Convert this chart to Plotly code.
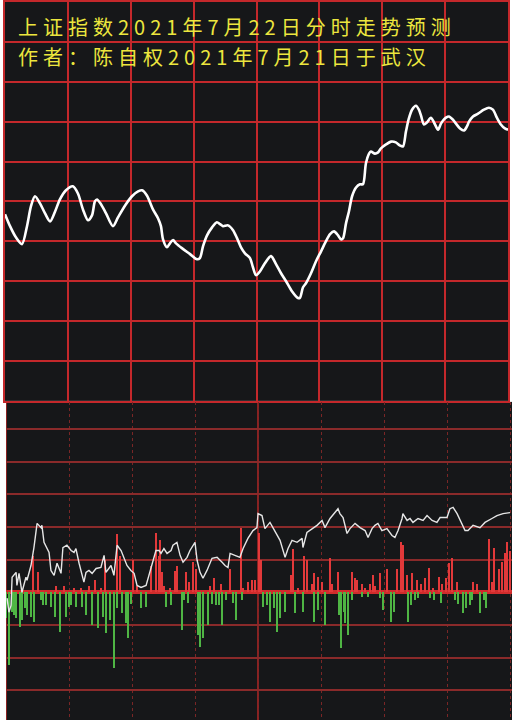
import plotly.graph_objects as go

# ---------------- data ----------------
# Upper panel: forecast curve (minutes after open, index level)
top_t = [0, 2.4, 5.2, 8.1, 10.5, 12.4, 14.3, 16.7, 19.1, 21.5, 23.9, 26.2, 29.1, 32.4, 34.8, 37.2,
         39.6, 41.5, 42.9, 43.9, 45.8, 48.2, 51.5, 53.9, 57.3, 60.6, 63.5, 65.4, 67.7, 70.6, 73.0,
         74.4, 75.4, 77.3, 78.7, 80.2, 81.6, 84.4, 88.3, 91.6, 93.0, 94.5, 96.4, 98.8, 101.1, 102.6,
         104.0, 106.4, 108.8, 110.7, 112.6, 114.5, 116.9, 118.3, 119.8, 121.7, 124.0, 126.9, 129.3,
         131.7, 134.1, 136.9, 139.8, 140.7, 142.2, 143.6, 146.0, 148.4, 150.8, 153.1, 155.1, 157.0,
         158.9, 160.3, 161.3, 162.7, 164.1, 165.6, 167.5, 169.4, 170.8, 172.2, 173.7, 174.6, 176.5,
         178.0, 179.4, 181.8, 184.2, 186.5, 188.5, 189.9, 191.3, 192.7, 194.2, 196.1, 197.5, 198.5,
         199.9, 201.3, 203.2, 204.7, 206.6, 208.0, 209.0, 210.4, 211.8, 213.7, 215.2, 217.1, 219.0,
         220.4, 221.4, 223.3, 225.7, 228.5, 230.9, 232.8, 234.7, 236.6, 238.5, 240]
top_v = [3546.8, 3543.8, 3541.0, 3539.3, 3543.8, 3548.8, 3551.3, 3549.5, 3547.0, 3545.0, 3547.5,
         3550.5, 3552.8, 3553.8, 3552.0, 3548.0, 3545.3, 3546.5, 3550.0, 3550.5, 3549.3, 3547.0,
         3543.8, 3546.0, 3549.0, 3551.3, 3552.5, 3552.8, 3551.5, 3548.0, 3545.8, 3543.8, 3540.5,
         3538.5, 3539.5, 3540.3, 3539.5, 3538.3, 3536.8, 3535.5, 3535.8, 3538.8, 3541.5, 3543.5,
         3544.8, 3544.3, 3543.8, 3544.0, 3542.8, 3540.8, 3538.5, 3537.0, 3535.8, 3533.5, 3531.5,
         3532.5, 3534.5, 3536.3, 3534.3, 3532.0, 3530.0, 3527.5, 3525.8, 3525.8, 3528.5, 3529.5,
         3532.0, 3535.0, 3537.5, 3540.0, 3541.8, 3542.5, 3541.5, 3540.5, 3540.8, 3544.5, 3547.5,
         3551.3, 3553.5, 3554.3, 3554.3, 3559.5, 3562.0, 3562.5, 3562.0, 3562.3, 3563.3, 3564.3,
         3565.0, 3564.8, 3564.0, 3563.8, 3567.5, 3570.8, 3573.0, 3574.0, 3573.0, 3571.5, 3569.3,
         3569.8, 3571.0, 3569.8, 3568.0, 3569.5, 3570.3, 3571.0, 3571.3, 3570.5, 3569.5, 3568.3,
         3567.8, 3568.8, 3570.0, 3571.3, 3572.0, 3573.0, 3573.5, 3573.0, 3571.0, 3569.3, 3568.3,
         3568.0]

# Lower panel: actual intraday line (minutes, scaled units)
low_t = [0.5, 1.4, 2.4, 2.9, 4.8, 5.2, 6.2, 7.1, 7.6, 9.5, 10.0, 11.9, 13.3, 14.8, 16.7, 17.1, 18.1,
         20.5, 21.4, 22.9, 24.3, 26.2, 27.1, 29.0, 31.0, 32.4, 33.3, 34.8, 37.1, 38.1, 39.5, 41.0,
         42.9, 45.2, 46.7, 47.6, 50.0, 51.4, 52.9, 54.8, 56.2, 57.6, 59.5, 61.0, 62.4, 64.3, 66.7,
         69.0, 71.4, 72.9, 73.8, 75.2, 76.7, 78.6, 79.5, 81.4, 82.9, 84.3, 86.2, 87.6, 90.0, 91.0,
         92.4, 93.8, 95.7, 98.1, 100.5, 102.9, 104.3, 105.7, 106.7, 109.0, 111.4, 112.9, 115.2,
         117.6, 119.5, 120.0, 121.9, 123.3, 125.7, 127.1, 129.0, 130.5, 132.9, 134.3, 136.2, 138.6,
         141.0, 141.4, 143.3, 145.7, 148.1, 150.5, 151.9, 154.3, 156.7, 158.1, 159.0, 160.5, 162.4,
         163.8, 166.2, 168.6, 171.0, 172.4, 174.3, 175.7, 177.1, 179.0, 181.4, 183.8, 185.2, 186.7,
         188.6, 189.0, 191.0, 192.4, 193.8, 196.2, 198.6, 200.5, 202.9, 205.2, 206.7, 210.0, 211.4,
         212.9, 214.8, 217.1, 218.6, 220.0, 222.4, 225.7, 228.1, 231.4, 233.8, 236.7, 240.0]
low_v = [-1.8, -6.1, -4.0, 4.6, 6.1, 2.1, 5.8, 1.5, 0.0, 4.6, 3.7, 8.2, 13.7, 21.1, 19.8, 20.5, 15.3,
         12.2, 6.7, 5.2, 8.9, 5.8, 13.7, 14.4, 12.8, 12.2, 13.4, 8.9, 3.1, 6.1, 6.7, 5.8, 7.3, 7.6,
         11.3, 6.1, 8.2, 5.2, 14.4, 12.8, 10.4, 8.2, 6.7, 5.8, 2.1, 1.5, 2.1, 7.3, 12.8, 12.8, 11.9,
         13.4, 11.9, 12.8, 14.4, 15.3, 11.3, 9.2, 10.7, 12.8, 15.3, 9.8, 6.1, 4.3, 6.7, 10.4, 10.7,
         9.2, 8.2, 7.6, 11.9, 11.3, 10.7, 13.4, 16.5, 18.9, 19.8, 24.1, 23.5, 19.5, 21.4, 19.8, 17.4,
         15.9, 10.7, 13.4, 15.9, 15.3, 16.5, 13.7, 18.3, 19.5, 20.5, 22.0, 19.8, 22.6, 24.4, 25.6,
         24.1, 22.9, 18.0, 19.5, 21.1, 19.8, 18.9, 16.8, 19.5, 20.5, 21.1, 18.9, 19.5, 17.4, 16.8,
         18.9, 22.6, 24.1, 22.0, 22.6, 21.4, 22.6, 22.0, 23.5, 22.0, 21.4, 22.9, 22.9, 25.6, 26.0,
         24.1, 21.1, 18.9, 18.9, 20.5, 19.8, 21.4, 22.6, 23.5, 24.1, 24.4]

# Lower panel: buy bars (red) and sell bars (green)
red_t = [12.9, 15.2, 23.8, 27.6, 32.4, 35.7, 39.5, 42.4, 45.2, 47.1, 52.9, 54.3, 60.5, 62.4, 69.0,
         71.4, 72.9, 73.3, 74.3, 75.2, 78.1, 80.5, 81.4, 85.7, 87.1, 89.0, 90.5, 97.1, 99.0, 102.4,
         106.7, 111.9, 112.9, 115.2, 117.1, 118.6, 120.5, 121.4, 135.7, 136.7, 139.0, 141.9, 143.3,
         145.7, 146.7, 148.6, 150.5, 154.3, 155.2, 158.1, 164.8, 166.2, 167.1, 169.5, 171.0, 173.3,
         174.8, 175.7, 178.1, 181.4, 186.2, 188.1, 189.0, 191.0, 193.3, 195.7, 197.6, 199.5, 201.4,
         203.3, 206.2, 207.6, 209.5, 211.0, 212.4, 214.8, 222.4, 224.3, 230.0, 231.4, 232.4, 234.8,
         236.2, 237.6, 238.6, 240.0]
red_v = [11.3, 6.1, 2.1, 2.1, 1.2, 1.2, 2.1, 3.7, 1.2, 9.8, 18.0, 11.3, 9.8, 2.1, 8.2, 18.3, 11.3,
         15.9, 6.1, 2.1, 1.2, 6.7, 8.2, 6.1, 3.1, 9.2, 7.3, 2.1, 4.3, 2.7, 7.3, 19.8, 1.5, 3.1, 3.7,
         3.7, 18.3, 9.8, 5.2, 13.4, 1.5, 11.3, 9.8, 2.7, 5.8, 4.6, 3.1, 10.4, 2.7, 6.1, 6.1, 4.3, 3.7,
         2.7, 1.5, 2.7, 5.2, 2.1, 5.8, 7.3, 7.3, 15.3, 14.4, 5.2, 5.8, 3.7, 2.7, 4.3, 7.6, 1.2, 4.6,
         2.7, 4.3, 8.9, 10.4, 3.1, 3.1, 2.7, 16.5, 3.1, 13.7, 7.3, 9.2, 12.2, 15.3, 12.8]
green_t = [0.0, 1.4, 2.9, 3.8, 4.8, 6.7, 7.6, 9.0, 10.0, 11.9, 13.3, 16.7, 17.6, 19.0, 21.4, 23.3,
           25.7, 28.6, 30.0, 31.0, 33.3, 36.2, 38.1, 41.0, 43.8, 46.2, 47.6, 49.5, 51.4, 52.9, 55.2,
           57.1, 58.1, 59.5, 64.3, 66.7, 76.2, 78.6, 83.8, 84.8, 86.7, 91.4, 92.4, 93.8, 96.2, 98.1,
           100.0, 101.4, 102.9, 104.8, 108.1, 109.5, 112.4, 122.4, 124.3, 125.7, 127.6, 129.0, 130.5,
           132.9, 137.6, 141.4, 146.7, 148.6, 151.9, 158.6, 159.5, 161.0, 161.4, 162.9, 164.8, 169.5,
           172.4, 178.1, 179.5, 183.3, 184.8, 191.4, 192.9, 194.8, 196.2, 201.9, 203.8, 207.1, 213.8,
           215.2, 217.6, 219.0, 221.0, 221.9, 225.7, 227.6, 228.6]
green_v = [-7.9, -22.3, -6.1, -7.0, -7.9, -10.7, -8.5, -4.9, -7.0, -7.6, -9.2, -2.4, -4.0, -4.0,
           -4.6, -7.6, -12.2, -7.6, -4.6, -4.0, -4.6, -4.6, -7.0, -10.1, -11.0, -7.6, -12.5, -8.5,
           -23.2, -4.9, -6.4, -9.5, -14.0, -3.4, -4.9, -4.6, -4.6, -4.0, -11.6, -2.4, -3.1, -13.1,
           -16.8, -14.0, -10.1, -3.4, -4.0, -4.0, -10.1, -2.4, -3.1, -8.5, -2.4, -4.6, -4.0, -9.2,
           -4.9, -12.2, -7.9, -6.1, -6.4, -6.1, -9.2, -5.5, -10.1, -7.0, -17.1, -6.1, -9.5, -13.1,
           -2.4, -1.5, -1.5, -1.8, -5.5, -9.2, -6.1, -9.2, -4.0, -2.4, -1.8, -1.8, -2.4, -3.1, -2.4,
           -3.4, -6.4, -4.9, -4.0, -2.4, -6.4, -2.4, -4.9]

title_lines = ["上证指数2021年7月22日分时走势预测", "作者：陈自权2021年7月21日于武汉"]

# ---------------- figure ----------------
BG = "#161719"
TOP_GRID = "#c4282b"
LOW_GRID = "#8a2a2a"

fig = go.Figure()

fig.add_trace(go.Scatter(x=top_t, y=top_v, mode="lines",
                         line=dict(color="white", width=2.6, shape="spline", smoothing=0.8),
                         xaxis="x", yaxis="y", hoverinfo="skip"))

fig.add_trace(go.Bar(x=red_t, y=red_v, marker=dict(color="#e2393a", line=dict(width=0)),
                     width=1.0, xaxis="x2", yaxis="y2", hoverinfo="skip"))
fig.add_trace(go.Bar(x=green_t, y=green_v, marker=dict(color="#4fb544", line=dict(width=0)),
                     width=1.0, xaxis="x2", yaxis="y2", hoverinfo="skip"))
fig.add_trace(go.Scatter(x=low_t, y=low_v, mode="lines",
                         line=dict(color="#e6e6e6", width=1.4),
                         xaxis="x2", yaxis="y2", hoverinfo="skip"))

fig.update_layout(
    width=512, height=720, autosize=False,
    margin=dict(l=0, r=0, t=0, b=0),
    paper_bgcolor="white", plot_bgcolor=BG,
    showlegend=False, barmode="overlay", bargap=0, hovermode=False,
    xaxis=dict(domain=[5 / 512, 508 / 512], range=[0, 240], dtick=30, tick0=0,
               showgrid=True, gridcolor=TOP_GRID, gridwidth=1.5,
               showline=True, mirror=True, linecolor=TOP_GRID, linewidth=1.5,
               showticklabels=False, ticks="", zeroline=False, fixedrange=True),
    yaxis=dict(domain=[320 / 720, 1], range=[3500, 3600], dtick=10, tick0=3500,
               showgrid=True, gridcolor=TOP_GRID, gridwidth=1.5,
               showline=True, mirror=True, linecolor=TOP_GRID, linewidth=2,
               showticklabels=False, ticks="", zeroline=False, fixedrange=True),
    xaxis2=dict(domain=[6 / 512, 1], range=[0, 240.95], dtick=30, tick0=0, anchor="y2",
                showgrid=True, gridcolor="#7a2626", gridwidth=1.2, griddash="dot",
                showline=False, showticklabels=False, ticks="", zeroline=False, fixedrange=True),
    yaxis2=dict(domain=[0, 319 / 720], range=[-39.1, 58.3], dtick=10, tick0=0, anchor="x2",
                showgrid=True, gridcolor=LOW_GRID, gridwidth=2,
                zeroline=True, zerolinecolor="#d02c2c", zerolinewidth=3.5,
                showline=False, showticklabels=False, ticks="", fixedrange=True),
)

# solid reference lines of the lower panel (left border and midday)
for xv in (0, 120):
    fig.add_shape(type="line", xref="x2", yref="y2 domain", x0=xv, x1=xv, y0=0, y1=1,
                  line=dict(color="#8a2222", width=2), layer="below")

# title text: two separate lines with a little letter spacing
SP = "\u2005"
for i, line in enumerate(title_lines):
    fig.add_annotation(text=SP.join(list(line)), xref="paper", yref="paper",
                       x=16 / 512, y=1 - (25 + 29.5 * i) / 720,
                       xanchor="left", yanchor="middle", align="left", showarrow=False,
                       font=dict(family="Noto Sans CJK SC", size=20, color="#ece63e"))

fig.write_html("out.html",
               config={"displayModeBar": False},
               post_script="document.body.style.margin='0';document.body.style.padding='0';")
